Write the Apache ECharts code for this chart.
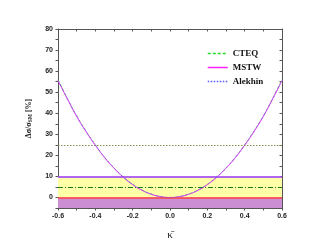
<!DOCTYPE html>
<html><head><meta charset="utf-8">
<script src="https://cdn.jsdelivr.net/npm/echarts@6/dist/echarts.min.js"></script>
<style>html,body{margin:0;padding:0;background:#fff}#c{width:327px;height:250px}</style>
</head><body><div id="c"></div>
<script>
var kappa = [-0.6,-0.55,-0.5,-0.45,-0.4,-0.35,-0.3,-0.25,-0.2,-0.15,-0.1,-0.05,0,0.05,0.1,0.15,0.2,0.25,0.3,0.35,0.4,0.45,0.5,0.55,0.6];
var cteq    = [56,47,38.7,31.5,25,19,14,9.7,6.2,3.5,1.6,0.4,0,0.4,1.6,3.5,6.2,9.7,14,19,25,31.5,38.7,47,56];
var mstw    = [55.5,46.8,38.5,31.3,24.8,18.9,13.9,9.6,6.1,3.4,1.5,0.4,0,0.4,1.5,3.4,6.1,9.6,13.9,18.9,24.8,31.3,38.5,46.8,55.5];
var alekhin = [55.6,46.9,38.6,31.4,24.9,19,14,9.7,6.2,3.5,1.6,0.4,0,0.4,1.6,3.5,6.2,9.7,14,19,24.9,31.4,38.6,46.9,55.6];
var yTicks = [0,10,20,30,40,50,60,70,80];
var yMinor = [-5,0,5,10,15,20,25,30,35,40,45,50,55,60,65,70,75,80];
var xTicks = [-0.6,-0.4,-0.2,0,0.2,0.4,0.6];
var xMinor = [-0.6,-0.5,-0.4,-0.3,-0.2,-0.1,0,0.1,0.2,0.3,0.4,0.5,0.6];
var yellowBand = [0,10];
var purpleBand = [-5,0];
var line25 = 25, line10 = 10, line5 = 5, line0 = 0;

function pts(ys){ return kappa.map(function(k,i){ return [k, ys[i]]; }); }
var lblFont = {fontFamily:'Liberation Sans, Arial', fontWeight:'bold', fontSize:7, color:'#222'};
var axLine = {onZero:false, lineStyle:{color:'#555', width:1}};
var sCTEQ = {color:'#22dd22', type:[3,2], width:1.5};
var sMSTW = {color:'#ff22ff', type:'solid', width:1.5};
var sAlek = {color:'#5555ff', type:[1.5,1.5], width:1.5};

var chart = echarts.init(document.getElementById('c'), null, {renderer:'canvas'});
chart.setOption({
  animation:false,
  backgroundColor:'#fff',
  grid:{left:58, right:45, top:29, bottom:42},
  legend:{
    data:[
      {name:'CTEQ', lineStyle:sCTEQ, itemStyle:{opacity:0}},
      {name:'MSTW', lineStyle:sMSTW, itemStyle:{opacity:0}},
      {name:'Alekhin', lineStyle:sAlek, itemStyle:{opacity:0}}
    ],
    orient:'vertical', left:202, top:44,
    itemWidth:20, itemHeight:8, itemGap:5,
    textStyle:{fontFamily:'Liberation Serif, Times New Roman', fontWeight:'bold', fontSize:9, color:'#111'}
  },
  xAxis:[{
    type:'value', min:-0.6, max:0.6, position:'bottom',
    name:'κ̄', nameLocation:'middle', nameGap:22,
    nameTextStyle:{fontFamily:'Liberation Serif', fontSize:11, color:'#222'},
    axisLine:axLine,
    axisTick:{customValues:xMinor, length:2.5, lineStyle:{color:'#555'}},
    axisLabel:Object.assign({customValues:xTicks, margin:5, formatter:function(v){return v.toFixed(1);}}, lblFont),
    splitLine:{show:false}
  },{
    type:'value', min:-0.6, max:0.6, position:'top',
    axisLine:axLine,
    axisTick:{customValues:xMinor, inside:true, length:2.5, lineStyle:{color:'#555'}},
    axisLabel:{show:false}, splitLine:{show:false}
  }],
  yAxis:[{
    type:'value', min:-5, max:80, position:'left',
    name:'{a|Δσ/σ}{b|SM}{a| [%]}', nameLocation:'middle', nameGap:24,
    nameTextStyle:{rich:{
      a:{fontFamily:'Liberation Serif', fontSize:8, fontWeight:'bold', color:'#222'},
      b:{fontFamily:'Liberation Serif', fontSize:5.5, fontWeight:'bold', color:'#222', verticalAlign:'bottom', padding:[4,0,0,0]}
    }},
    axisLine:axLine,
    axisTick:{customValues:yMinor, length:2.5, lineStyle:{color:'#555'}},
    axisLabel:Object.assign({customValues:yTicks, margin:5}, lblFont),
    splitLine:{show:false}
  },{
    type:'value', min:-5, max:80, position:'right',
    axisLine:axLine,
    axisTick:{customValues:yMinor, inside:true, length:2.5, lineStyle:{color:'#555'}},
    axisLabel:{show:false}, splitLine:{show:false}
  }],
  series:[{
    name:'refs', type:'line', data:[], silent:true, z:1,
    markArea:{silent:true, data:[
      [{yAxis:yellowBand[0], itemStyle:{color:'#ffffa8'}},{yAxis:yellowBand[1]}],
      [{yAxis:purpleBand[0], itemStyle:{color:'#cc8ed2'}},{yAxis:purpleBand[1]}]
    ]},
    markLine:{silent:true, symbol:'none', label:{show:false}, data:[
      {yAxis:line25, lineStyle:{color:'#8c8c50', type:[1.5,1.5], width:1}},
      {yAxis:line10, lineStyle:{color:'#9933ff', type:'solid', width:1.5}},
      {yAxis:line5, lineStyle:{color:'#1f7a1f', type:[5,2,1,2], width:1}},
      {yAxis:line0, lineStyle:{color:'#ff4040', type:'solid', width:1.5}}
    ]}
  },{
    name:'CTEQ', type:'line', data:pts(cteq), smooth:true, symbol:'none', z:3,
    lineStyle:{color:'#33cc33', type:[3,2], width:1}, itemStyle:{color:'#33cc33'}
  },{
    name:'MSTW', type:'line', data:pts(mstw), smooth:true, symbol:'none', z:4,
    lineStyle:{color:'#ff33ff', type:'solid', width:1}, itemStyle:{color:'#ff33ff'}
  },{
    name:'Alekhin', type:'line', data:pts(alekhin), smooth:true, symbol:'none', z:5,
    lineStyle:{color:'#6666ff', type:[1,1.5], width:0.8}, itemStyle:{color:'#6666ff'}
  }]
});
</script></body></html>
